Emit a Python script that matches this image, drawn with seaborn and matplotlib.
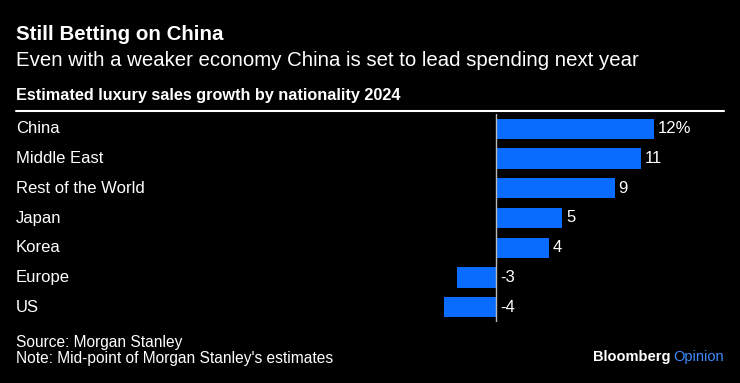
import matplotlib
matplotlib.use("Agg")
from matplotlib import pyplot as plt
import matplotlib.transforms as mtransforms
import pandas as pd
import seaborn as sns

# 数据
regions = ["China", "Middle East", "Rest of the World", "Japan", "Korea", "Europe", "US"]
growth = [12, 11, 9, 5, 4, -3, -4]
value_labels = ["12%", "11", "9", "5", "4", "-3", "-4"]

W, H = 740, 383
bg = "black"
blue = "#0a6cff"

sns.set_theme(style="dark")
plt.rcParams["font.family"] = ["Liberation Sans", "DejaVu Sans"]

df = pd.DataFrame({"region": regions, "growth": growth})

fig = plt.figure(figsize=(W / 100, H / 100), dpi=100, facecolor=bg)


def fx(px):
    return px / W


def fy(py):
    return 1 - py / H


ax = fig.add_axes([fx(16), fy(322), fx(725 - 16), (322 - 114) / H])
ax.set_facecolor(bg)
sns.barplot(data=df, x="growth", y="region", orient="h", color=blue,
            saturation=1, width=0.68, linewidth=0, ax=ax)
ax.set_xlim(-36.5, 17.4)
ax.set_ylim(6.5, -0.5)
for s in ax.spines.values():
    s.set_visible(False)
ax.set_xticks([])
ax.set_yticks([])
ax.set_xlabel("")
ax.set_ylabel("")
ax.grid(False)
ax.axvline(0, color="#bbbbbb", lw=1, zorder=5)

# 类别标签
trans = mtransforms.blended_transform_factory(ax.transAxes, ax.transData)
for i, name in enumerate(regions):
    ax.text(0, i, name, transform=trans, ha="left", va="center",
            color="white", fontsize=12)

# 数值标签
for i, (v, lab) in enumerate(zip(growth, value_labels)):
    x0 = max(v, 0)
    ax.annotate(lab, (x0, i), xytext=(3, 0), textcoords="offset points",
                ha="left", va="center", color="white", fontsize=12)

# 标题
fig.text(fx(16), fy(35), "Still Betting on China", color="white",
         fontsize=14.8, fontweight="bold", va="center")
fig.text(fx(16), fy(60), "Even with a weaker economy China is set to lead spending next year",
         color="white", fontsize=14.7, va="center")
fig.text(fx(16), fy(96), "Estimated luxury sales growth by nationality 2024",
         color="white", fontsize=11.7, fontweight="bold", va="center")
fig.add_artist(plt.Line2D([fx(16), fx(724)], [fy(111), fy(111)],
                          color="white", lw=1.5))

fig.text(fx(16), fy(342), "Source: Morgan Stanley", color="white",
         fontsize=11.2, va="center")
fig.text(fx(16), fy(358), "Note: Mid-point of Morgan Stanley's estimates",
         color="white", fontsize=11.2, va="center")

fig.text(fx(724), fy(357), "Opinion", color="#3d8bff", fontsize=10.5,
         ha="right", va="center")
fig.text(fx(671), fy(357), "Bloomberg", color="white", fontsize=10.5,
         fontweight="bold", ha="right", va="center")

fig.savefig("out.png", dpi=100, facecolor=bg)
